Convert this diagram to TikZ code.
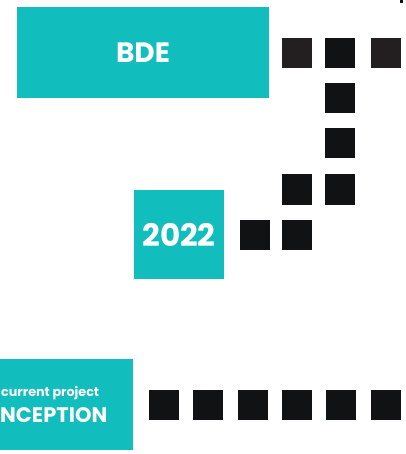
\documentclass[tikz,border=0pt]{standalone}
\usepackage{fontspec}
\setmainfont{Poppins}
\definecolor{teal1}{HTML}{12BDBD}
\definecolor{sqA}{HTML}{111214}
\definecolor{sqB}{HTML}{231F20}
\begin{document}
\begin{tikzpicture}[x=1pt,y=-1pt,
  sq/.style={fill=sqA,minimum size=30pt,inner sep=0pt,outer sep=0pt},
  sqb/.style={sq,fill=sqB},
  tbox/.style={fill=teal1,inner sep=0pt,outer sep=0pt,text=white,font=\bfseries}]
\useasboundingbox (0,0) rectangle (405,454);
\node[tbox,minimum width=252pt,minimum height=91pt,font=\bfseries\fontsize{28}{30}\selectfont] (bde) at (143,52.5) {BDE};
\node[tbox,minimum width=90pt,minimum height=89pt,font=\bfseries\fontsize{31}{33}\selectfont] (y2022) at (179,234.5) {2022};
\node[tbox,minimum width=133pt,minimum height=91pt] (cur) at (66.5,404.5) {};
\node[text=white,font=\bfseries\fontsize{12.7}{13}\selectfont,inner sep=0pt,anchor=base west] (curtxt) at (1,396) {current project};
\node[text=white,font=\bfseries\fontsize{21}{22}\selectfont,inner sep=0pt,anchor=base west] (inc) at (0,422) {NCEPTION};
% top row
\node[sqb] (t1) at (297,53.5) {};
\node[sq] (t2) at (340,53.5) {};
\node[sqb] (t3) at (386,53.5) {};
% column
\node[sq] (c1) at (340,98) {};
\node[sq] (c2) at (340,143.5) {};
\node[sq] (c3) at (340,189.5) {};
\node[sq] (c4) at (297,189.5) {};
\node[sq] (c5) at (297,235) {};
\node[sq] (c6) at (254.5,235) {};
% bottom row
\node[sq] (b1) at (164,404.5) {};
\node[sq] (b2) at (208,404.5) {};
\node[sq] (b3) at (253,404.5) {};
\node[sq] (b4) at (297,404.5) {};
\node[sq] (b5) at (341,404.5) {};
\node[sq] (b6) at (386,404.5) {};
% tiny corner fragment
\fill[sqA] (400,0) rectangle (403,3);
\end{tikzpicture}
\end{document}
